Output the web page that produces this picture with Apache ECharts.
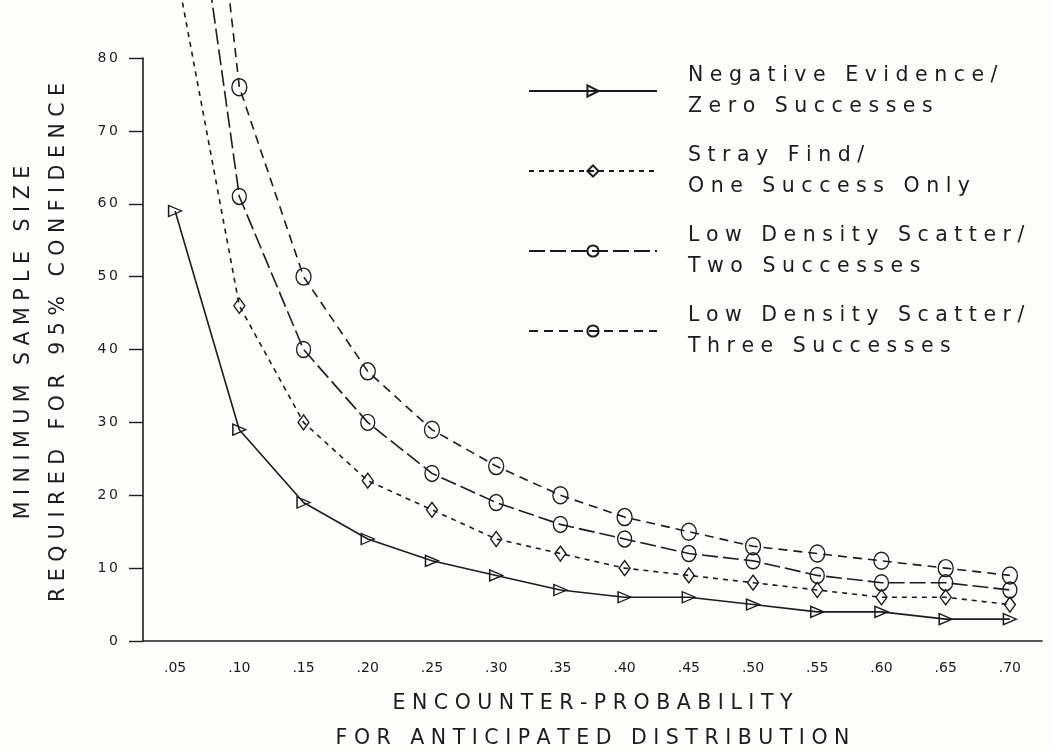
<!DOCTYPE html>
<html>
<head>
<meta charset="utf-8">
<script src="https://cdn.jsdelivr.net/npm/echarts@6/dist/echarts.min.js"></script>
<style>
html,body{margin:0;padding:0;background:#fdfdfc;}
#chart{width:1050px;height:751px;}
</style>
</head>
<body>
<div id="chart"></div>
<script>
// ---- data ----
const xLabels = ['.05','.10','.15','.20','.25','.30','.35','.40','.45','.50','.55','.60','.65','.70'];
const zeroSuccesses  = [59, 29, 19, 14, 11, 9, 7, 6, 6, 5, 4, 4, 3, 3];
const oneSuccess     = [93, 46, 30, 22, 18, 14, 12, 10, 9, 8, 7, 6, 6, 5];
const twoSuccesses   = [124, 61, 40, 30, 23, 19, 16, 14, 12, 11, 9, 8, 8, 7];
const threeSuccesses = [155, 76, 50, 37, 29, 24, 20, 17, 15, 13, 12, 11, 10, 9];
const seriesNames = [
  'Negative Evidence/|Zero Successes',
  'Stray Find/|One Success Only',
  'Low Density Scatter/|Two Successes',
  'Low Density Scatter/|Three Successes'
];
const yTitle = ['MINIMUM SAMPLE SIZE', 'REQUIRED FOR 95% CONFIDENCE'];
const xTitle = ['ENCOUNTER-PROBABILITY', 'FOR ANTICIPATED DISTRIBUTION'];

// letter spacing emulation
function spaced(s, gap){
  return s.split(' ').map(w => w.split('').join(' ')).join(gap || '   ');
}

const ink = '#1c1c1c';
const font = 'DejaVu Sans';
const titleSize = 20.5;

function mk(name, data, symbol, size, rotate, dash){
  return {
    name: name,
    type: 'line',
    data: data,
    symbol: symbol,
    symbolSize: size,
    symbolRotate: rotate,
    showAllSymbol: true,
    clip: false,
    lineStyle: {color: ink, width: 1.6, type: dash},
    itemStyle: {color: 'rgba(255,255,255,0)', borderColor: ink, borderWidth: 1.4},
    emphasis: {disabled: true}
  };
}

const chart = echarts.init(document.getElementById('chart'));
chart.setOption({
  animation: false,
  backgroundColor: '#fdfdfc',
  textStyle: {fontFamily: font, color: ink},
  grid: {left: 143, top: 58, width: 899, bottom: 110, containLabel: false, outerBoundsMode: 'none'},
  legend: {
    orient: 'vertical',
    left: 523,
    top: 55,
    itemWidth: 128,
    itemHeight: 14,
    itemGap: 18,
    textStyle: {fontFamily: font, fontSize: titleSize, color: ink, lineHeight: 31, padding: [0,0,0,26]},
    formatter: function(n){ return n.split('|').map(s => spaced(s)).join('\n'); },
    data: seriesNames
  },
  xAxis: {
    type: 'category',
    data: xLabels,
    boundaryGap: true,
    axisLine: {lineStyle: {color: ink, width: 1.6}},
    axisTick: {alignWithLabel: true, length: 8, lineStyle: {color: ink, width: 1.4}},
    axisLabel: {fontFamily: font, fontSize: 14, color: ink, margin: 20},
    name: xTitle.map(s => spaced(s)).join('\n'),
    nameLocation: 'middle',
    nameGap: 45,
    nameTextStyle: {fontFamily: font, fontSize: titleSize, color: ink, lineHeight: 35, verticalAlign: 'top'}
  },
  yAxis: {
    type: 'value',
    min: 0, max: 80, interval: 10,
    splitLine: {show: false},
    axisLine: {show: true, lineStyle: {color: ink, width: 1.6}},
    axisTick: {show: true, length: 14, lineStyle: {color: ink, width: 1.4}},
    axisLabel: {fontFamily: font, fontSize: 14, color: ink, margin: 25,
      formatter: v => String(v).split('').join('\u2009')},
    name: yTitle.map(s => spaced(s)).join('\n'),
    nameLocation: 'middle',
    nameRotate: 90,
    nameGap: 67,
    nameTextStyle: {fontFamily: font, fontSize: titleSize, color: ink, lineHeight: 35, padding: [0, 0, 0, 14]}
  },
  series: [
    mk(seriesNames[0], zeroSuccesses, 'triangle', [11, 13], -90, 'solid'),
    mk(seriesNames[1], oneSuccess, 'diamond', [11, 15], 0, [5, 5]),
    mk(seriesNames[2], twoSuccesses, 'circle', [14, 16], 0, [16, 5]),
    mk(seriesNames[3], threeSuccesses, 'circle', [15, 17], 0, [9, 6])
  ]
});
</script>
</body>
</html>
